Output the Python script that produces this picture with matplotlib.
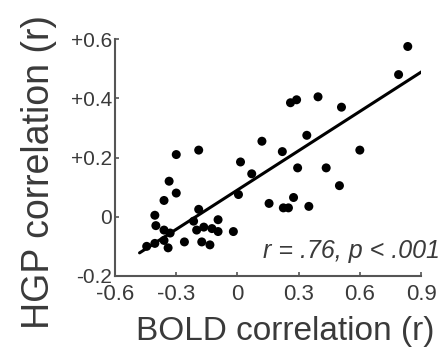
import matplotlib
matplotlib.use("Agg")
import matplotlib.pyplot as plt
import numpy as np

# --- datos ---
bold_r = [-0.30, -0.19, -0.335, -0.30, -0.36, -0.405, -0.40, -0.36, -0.33, -0.36,
          -0.405, -0.445, -0.34, -0.26, -0.19, -0.215, -0.20, -0.165, -0.125, -0.095,
          -0.095, -0.175, -0.135, -0.02, 0.005, 0.015, 0.07, 0.12, 0.155, 0.225,
          0.25, 0.275, 0.22, 0.26, 0.29, 0.395, 0.34, 0.295, 0.35, 0.435,
          0.50, 0.51, 0.60, 0.79, 0.835]
hgp_r = [0.21, 0.225, 0.12, 0.08, 0.055, 0.005, -0.03, -0.045, -0.055, -0.08,
         -0.09, -0.10, -0.105, -0.085, 0.025, -0.015, -0.045, -0.035, -0.04, -0.01,
         -0.05, -0.085, -0.095, -0.05, 0.075, 0.185, 0.145, 0.255, 0.045, 0.03,
         0.03, 0.065, 0.22, 0.385, 0.395, 0.405, 0.275, 0.165, 0.035, 0.165,
         0.105, 0.37, 0.225, 0.48, 0.575]

# recta de ajuste (extremos leidos)
fit_x = [-0.48, 0.94]
fit_y = [-0.122, 0.506]

xticks = [-0.6, -0.3, 0, 0.3, 0.6, 0.9]
xticklabels = ["-0.6", "-0.3", "0", "0.3", "0.6", "0.9"]
yticks = [-0.2, 0, 0.2, 0.4, 0.6]
yticklabels = ["-0.2", "0", "+0.2", "+0.4", "+0.6"]

plt.rcParams["font.family"] = ["Liberation Sans", "DejaVu Sans"]
gris = "#3a3a3a"

fig = plt.figure(figsize=(4.46, 3.52), dpi=100)
ax = fig.add_axes([0.258, 0.216, 0.686, 0.673])

ax.plot(fit_x, fit_y, color="black", lw=2.2, solid_capstyle="round", zorder=2)
ax.scatter(bold_r, hgp_r, s=42, color="black", edgecolors="none", zorder=3)

ax.set_xlim(-0.6, 0.9)
ax.set_ylim(-0.2, 0.6)
ax.set_xticks(xticks)
ax.set_xticklabels(xticklabels)
ax.set_yticks(yticks)
ax.set_yticklabels(yticklabels)

for lado in ["top", "right"]:
    ax.spines[lado].set_visible(False)
for lado in ["left", "bottom"]:
    ax.spines[lado].set_color("#555555")
    ax.spines[lado].set_linewidth(1.5)

ax.tick_params(direction="in", length=3, width=1.2, color="#555555",
               labelsize=15, labelcolor=gris, pad=2)
ax.tick_params(axis="x", labelsize=16, pad=6)

ax.set_xlabel("BOLD correlation (r)", fontsize=24, color=gris)
ax.set_ylabel("HGP correlation (r)", fontsize=27, color=gris)
ax.xaxis.set_label_coords(0.556, -0.17)
ax.yaxis.set_label_coords(-0.19, 0.44)

ax.text(1.062, 0.055, "r = .76, p < .001", transform=ax.transAxes,
        ha="right", va="bottom", fontsize=18, style="italic", color=gris)

fig.savefig("out.png", dpi=100)
